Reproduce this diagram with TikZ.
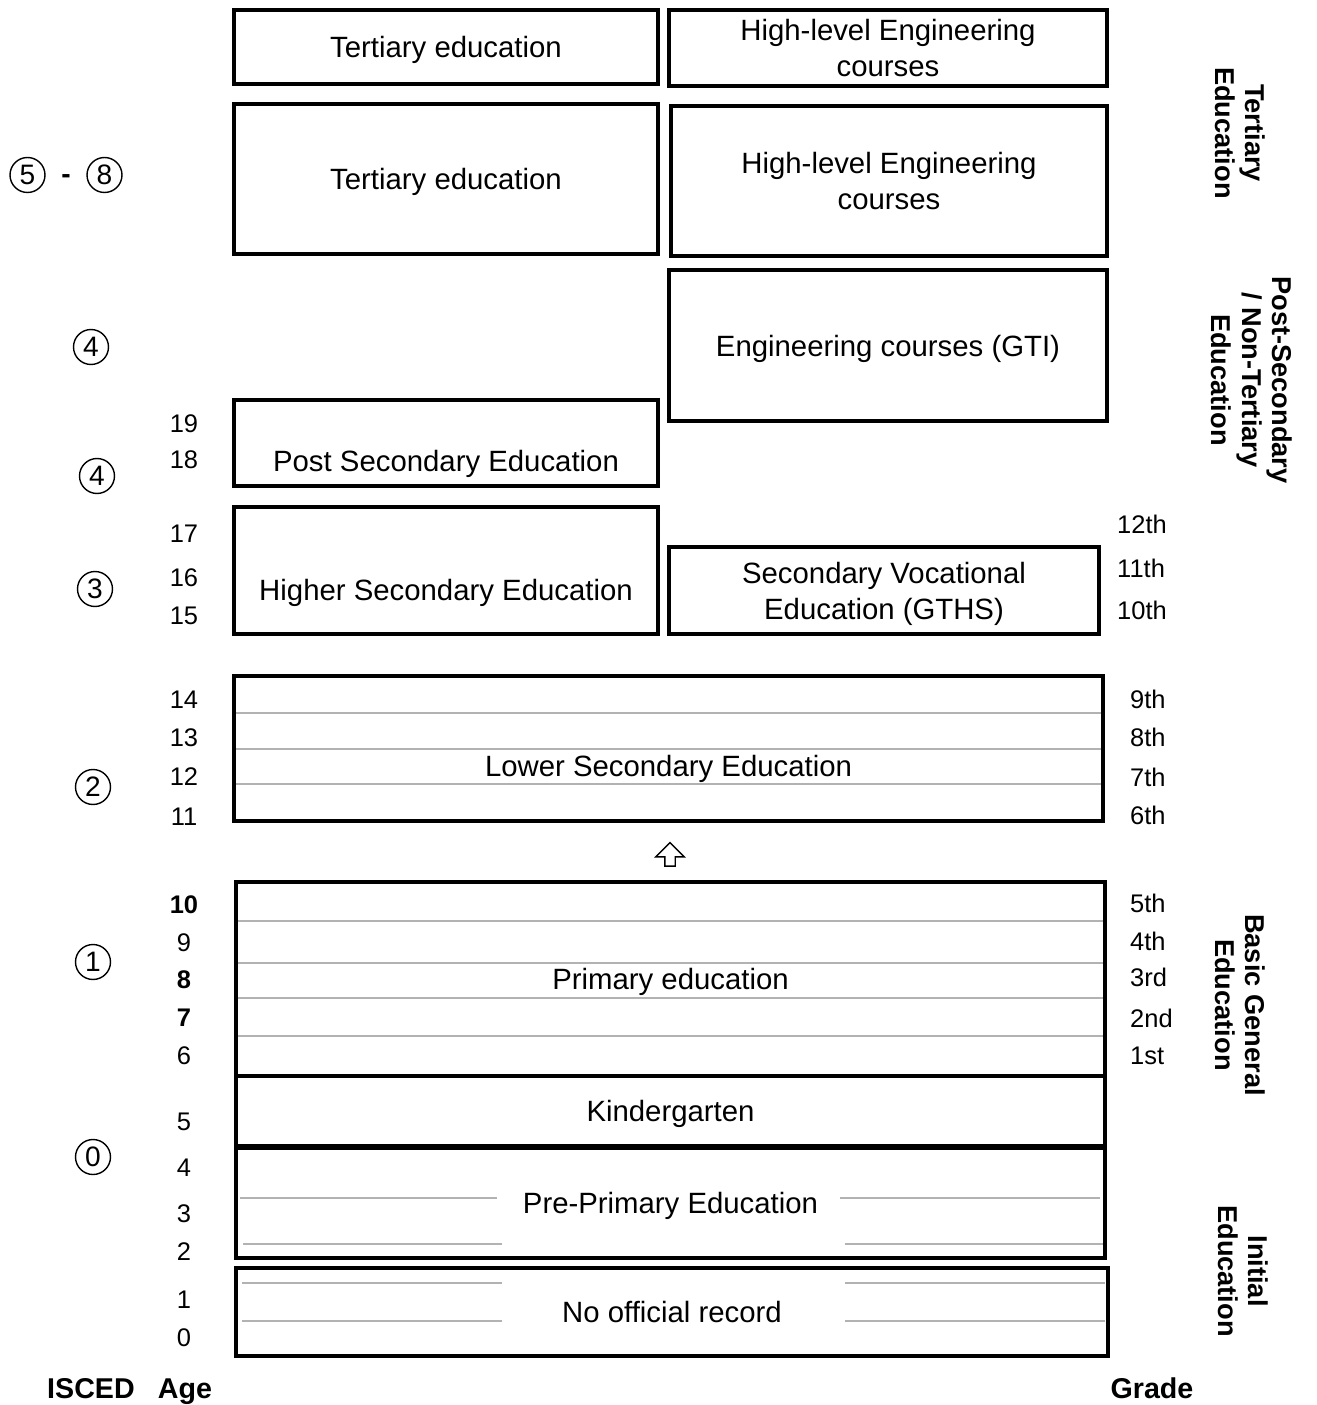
\documentclass[tikz,border=0pt]{standalone}
\usepackage{fontspec}
\setmainfont{Liberation Sans}
\usetikzlibrary{shapes.arrows}
\begin{document}
\begin{tikzpicture}[
  x=0.02cm, y=-0.02cm,
  edubox/.style={rectangle, draw, line width=1.9pt, align=center, inner sep=0pt, text depth=0pt, font=\fontsize{16.7}{20.5}\selectfont},
  boxtext/.style={align=center, text depth=0pt, font=\fontsize{16.7}{20.5}\selectfont},
  age/.style={font=\fontsize{14.5}{17}\selectfont},
  grade/.style={anchor=west, font=\fontsize{14.5}{17}\selectfont},
  isced/.style={circle, draw, line width=0.8pt, minimum size=0.7cm, inner sep=0pt, font=\fontsize{16}{18}\selectfont},
  stage/.style={rotate=-90, align=center, font=\bfseries\fontsize{15.5}{17.3}\selectfont},
  axis/.style={anchor=base, font=\bfseries\fontsize{16.3}{19}\selectfont},
  rule/.style={gray!60, line width=0.7pt}
]
  \useasboundingbox (0,0) rectangle (1317,1405);

  % tertiary and post-secondary
  \node[edubox, minimum width=8.48cm, minimum height=1.48cm] (tert1) at (446,47) {Tertiary education};
  \node[edubox, minimum width=8.76cm, minimum height=1.52cm] (eng1) at (888,48) {High-level Engineering\\courses};
  \node[edubox, minimum width=8.48cm, minimum height=3.0cm] (tert2) at (446,179) {Tertiary education};
  \node[edubox, minimum width=8.72cm, minimum height=3.0cm] (eng2) at (889,181) {High-level Engineering\\courses};
  \node[edubox, minimum width=8.76cm, minimum height=3.02cm] (gti) at (888,345.5) {Engineering courses (GTI)};
  \node[edubox, minimum width=8.48cm, minimum height=1.72cm] (postsec) at (446,443) {};
  \node[boxtext] (postsec text) at (446,461) {Post Secondary Education};

  % secondary
  \node[edubox, minimum width=8.48cm, minimum height=2.54cm] (highsec) at (446,570.5) {};
  \node[boxtext] (highsec text) at (446,590) {Higher Secondary Education};
  \node[edubox, minimum width=8.6cm, minimum height=1.74cm] (secvoc) at (884,590.5) {Secondary Vocational\\Education (GTHS)};
  \node[edubox, minimum width=17.38cm, minimum height=2.9cm] (lowsec) at (668.5,748.5) {};
  \node[boxtext] (lowsec text) at (668.5,766) {Lower Secondary Education};
  \foreach \y in {713,749,784}
    \draw[rule] (236,\y) -- (1101,\y);

  \node[single arrow, draw, line width=0.8pt, shape border rotate=90, inner sep=0.09cm,
        minimum height=0.47cm, single arrow head extend=0.18cm] (up) at (670,857) {};

  % basic and initial
  \node[edubox, minimum width=17.38cm, minimum height=3.88cm] (primary) at (670.5,979) {Primary education};
  \foreach \y in {921,963,998,1036}
    \draw[rule] (238,\y) -- (1103,\y);
  \node[edubox, minimum width=17.38cm, minimum height=1.4cm] (kinder) at (670.5,1111) {Kindergarten};
  \node[edubox, minimum width=17.38cm, minimum height=2.2cm] (preprim) at (670.5,1203) {Pre-Primary Education};
  \draw[rule] (240,1198) -- (497,1198) (840,1198) -- (1100,1198);
  \draw[rule] (243,1244) -- (502,1244) (845,1244) -- (1103,1244);
  \node[edubox, minimum width=17.44cm, minimum height=1.76cm] (norecord) at (672,1312) {No official record};
  \foreach \y in {1283,1321}
    \draw[rule] (242,\y) -- (502,\y) (845,\y) -- (1105,\y);

  % ages
  \foreach \y/\a [count=\i] in {424/19, 460/18, 534/17, 578/16, 616/15, 700/14, 738/13, 777/12, 817/11,
      905/{\textbf{10}}, 943/9, 980/{\textbf{8}}, 1018/{\textbf{7}}, 1056/6, 1122/5, 1168/4, 1214/3, 1252/2, 1300/1, 1338/0}
    \node[age] (age\i) at (184,\y) {\a};

  % grades
  \foreach \y/\g [count=\i] in {524/12th, 568/11th, 610/10th}
    \node[grade] (grade\i) at (1111,\y) {\g};
  \foreach \y/\g [count=\i] in {699/9th, 737/8th, 777/7th, 815/6th, 903/5th, 941/4th, 977/3rd, 1018/2nd, 1056/1st}
    \node[grade] (lgrade\i) at (1124,\y) {\g};

  % ISCED levels
  \node[isced] (isced5) at (27.5,175) {5};
  \node[font=\bfseries\fontsize{16}{18}\selectfont] (isced dash) at (66,179) {-};
  \node[isced] (isced8) at (104.5,175) {8};
  \node[isced] (isced4b) at (91,347) {4};
  \node[isced] (isced4a) at (97,476) {4};
  \node[isced] (isced3) at (95,589) {3};
  \node[isced] (isced2) at (93,787) {2};
  \node[isced] (isced1) at (93,962) {1};
  \node[isced] (isced0) at (93,1157) {0};

  % stages
  \node[stage] (tertiary) at (1240,133) {Tertiary\\Education};
  \node[stage] (postsecondary) at (1252,380) {Post-Secondary\\/ Non-Tertiary\\Education};
  \node[stage] (basic) at (1240,1005) {Basic General\\Education};
  \node[stage] (initial) at (1243,1271) {Initial\\Education};

  \node[axis] (isced) at (91,1398) {ISCED};
  \node[axis] (age) at (185,1398) {Age};
  \node[axis] (grade) at (1152,1398) {Grade};
\end{tikzpicture}
\end{document}
